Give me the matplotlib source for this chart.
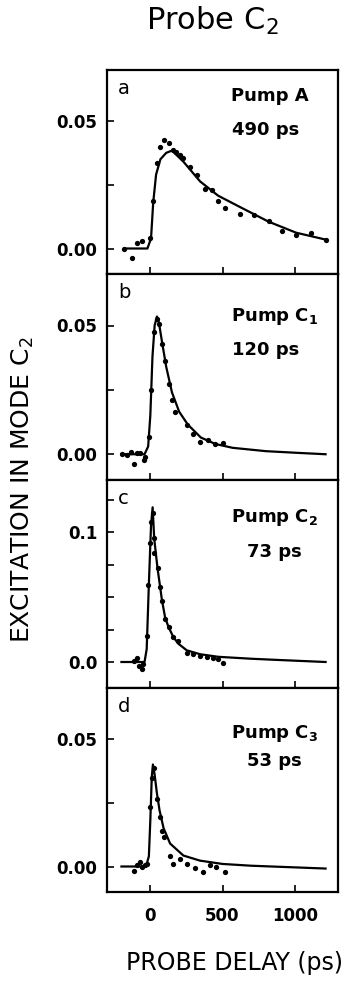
import matplotlib
matplotlib.use("Agg")
import matplotlib.pyplot as plt
from matplotlib.ticker import FixedLocator, FixedFormatter, MultipleLocator

# ---------------- data ----------------
panel_letters = ["a", "b", "c", "d"]
pump_labels = ["Pump A", r"Pump C$_\mathbf{1}$", r"Pump C$_\mathbf{2}$", r"Pump C$_\mathbf{3}$"]
time_labels = ["490 ps", "120 ps", "73 ps", "53 ps"]

pts_x_a = [-183, -126, -92, -57, -5, 18, 46, 69, 92, 126, 160, 178, 206, 229, 275, 321,
           378, 424, 470, 515, 619, 715, 820, 912, 1012, 1111, 1214]
pts_y_a = [0.0, -0.0036, 0.002, 0.0029, 0.0042, 0.0188, 0.0335, 0.0397, 0.0426, 0.0413,
           0.0387, 0.038, 0.0367, 0.0354, 0.0321, 0.0289, 0.0233, 0.0228, 0.0185, 0.0159,
           0.0136, 0.0132, 0.0107, 0.0068, 0.0051, 0.0061, 0.0035]
fit_x_a = [-180, -20, 5, 20, 40, 70, 110, 150, 230, 345, 470, 620, 820, 1010, 1214]
fit_y_a = [0.0, 0.0, 0.004, 0.018, 0.029, 0.035, 0.0375, 0.0384, 0.034, 0.0263, 0.0207,
           0.0163, 0.0105, 0.0062, 0.0035]

pts_x_b = [-195, -160, -137, -115, -92, -69, -46, -34, -11, 5, 23, 46, 57, 80, 103, 126,
           149, 172, 252, 298, 344, 401, 447, 504]
pts_y_b = [0.0, -0.0004, 0.0009, -0.0036, 0.0003, 0.0005, -0.0023, -0.001, 0.0067, 0.0248,
           0.0474, 0.0526, 0.0507, 0.0429, 0.0364, 0.0274, 0.0209, 0.0164, 0.0112, 0.008,
           0.0048, 0.0054, 0.0041, 0.0044]
fit_x_b = [-200, -40, -15, 0, 15, 30, 46, 60, 80, 110, 150, 200, 260, 350, 450, 570, 800,
           1000, 1214]
fit_y_b = [0.0, 0.0, 0.003, 0.015, 0.038, 0.050, 0.0535, 0.051, 0.044, 0.034, 0.024,
           0.0165, 0.0115, 0.0065, 0.0040, 0.0025, 0.0012, 0.0006, 0.0]

pts_x_c = [-115, -92, -80, -57, -50, -23, -16, -5, 7, 18, 23, 27, 50, 69, 80, 103, 126,
           160, 195, 252, 298, 344, 390, 435, 470, 504]
pts_y_c = [0.0008, 0.0034, -0.0031, -0.0057, -0.0018, 0.0202, 0.059, 0.0913, 0.108, 0.1146,
           0.0952, 0.0836, 0.072, 0.0577, 0.0473, 0.0331, 0.0266, 0.0189, 0.0163, 0.0072,
           0.006, 0.0047, 0.0039, 0.0028, 0.0021, -0.0005]
fit_x_c = [-200, -40, -25, -10, 5, 16, 27, 50, 69, 80, 103, 126, 160, 195, 252, 344, 470,
           700, 900, 1214]
fit_y_c = [0.0, 0.0, 0.01, 0.06, 0.105, 0.119, 0.095, 0.072, 0.057, 0.048, 0.034, 0.027,
           0.019, 0.014, 0.009, 0.006, 0.004, 0.0025, 0.0015, 0.0]

pts_x_d = [-115, -92, -74, -57, -34, -23, 0, 11, 23, 46, 64, 80, 96, 137, 160, 206, 257,
           309, 362, 412, 458, 515]
pts_y_d = [-0.0016, 0.0004, 0.0017, -0.0003, 0.0004, 0.0011, 0.0232, 0.0349, 0.0388,
           0.0264, 0.0193, 0.0141, 0.0115, 0.0043, 0.0011, 0.003, 0.0008, -0.0005, -0.0022,
           0.0004, 0.0, -0.0022]
fit_x_d = [-200, -30, -10, 0, 10, 18, 30, 45, 64, 92, 137, 229, 344, 500, 700, 1214]
fit_y_d = [0.0, 0.0, 0.004, 0.018, 0.035, 0.040, 0.036, 0.029, 0.022, 0.015, 0.009, 0.0043,
           0.0023, 0.001, 0.0003, -0.0008]

pts_x = [pts_x_a, pts_x_b, pts_x_c, pts_x_d]
pts_y = [pts_y_a, pts_y_b, pts_y_c, pts_y_d]
fit_x = [fit_x_a, fit_x_b, fit_x_c, fit_x_d]
fit_y = [fit_y_a, fit_y_b, fit_y_c, fit_y_d]

ylims = [(-0.01, 0.07), (-0.01, 0.07), (-0.02, 0.14), (-0.01, 0.07)]
ymajor = [[0.0, 0.05], [0.0, 0.05], [0.0, 0.1], [0.0, 0.05]]
ymajor_labels = [["0.00", "0.05"], ["0.00", "0.05"], ["0.0", "0.1"], ["0.00", "0.05"]]
xticks = [0, 500, 1000]
xtick_labels = ["0", "500", "1000"]

# ---------------- layout ----------------
W, H = 357, 981
fig = plt.figure(figsize=(W / 100, H / 100), dpi=100)
plt.rcParams["font.family"] = ["DejaVu Sans"]

left_px, right_px = 107, 338
bounds_px = [(70, 274), (274, 480), (480, 688), (688, 892)]
text_rows = [(26, 60), (43, 76), (38, 72), (45, 73)]   # px below panel top
time_cx = [266, 266, 274, 274]

for i in range(4):
    top, bot = bounds_px[i]
    ax = fig.add_axes([left_px / W, 1 - bot / H, (right_px - left_px) / W, (bot - top) / H])
    ax.plot(fit_x[i], fit_y[i], color="black", lw=1.6, solid_joinstyle="round", zorder=2)
    ax.plot(pts_x[i], pts_y[i], "o", color="black", ms=3.8, mew=0, zorder=3)
    ax.set_xlim(-300, 1300)
    ax.set_ylim(*ylims[i])
    ax.yaxis.set_major_locator(FixedLocator(ymajor[i]))
    ax.yaxis.set_major_formatter(FixedFormatter(ymajor_labels[i]))
    ax.yaxis.set_minor_locator(MultipleLocator(0.025))
    ax.set_xticks(xticks)
    ax.set_xticklabels(xtick_labels)
    for s in ax.spines.values():
        s.set_linewidth(1.6)
    ax.tick_params(which="both", direction="in", left=True, bottom=True, right=False,
                   top=False, width=1.2)
    ax.tick_params(which="major", length=5)
    ax.tick_params(which="minor", length=5)
    ax.tick_params(axis="y", labelsize=12, pad=7)
    ax.tick_params(axis="x", labelsize=12, pad=11)
    for lab in ax.get_yticklabels() + ax.get_xticklabels():
        lab.set_fontweight("bold")
    if i < 3:
        ax.tick_params(axis="x", labelbottom=False)
    # panel letter
    fig.text(118 / W, 1 - (top + 18) / H, panel_letters[i], fontsize=14,
             ha="left", va="center")
    r1, r2 = text_rows[i]
    fig.text(231 / W, 1 - (top + r1) / H, pump_labels[i], fontsize=13, fontweight="bold",
             ha="left", va="center")
    fig.text(time_cx[i] / W, 1 - (top + r2) / H, time_labels[i], fontsize=13,
             fontweight="bold", ha="center", va="center")

fig.text(212 / W, 1 - 30 / H, r"Probe C$_2$", fontsize=22, ha="center", va="baseline")
fig.text(23 / W, 1 - 490 / H, r"EXCITATION IN MODE C$_2$", fontsize=18, rotation=90,
         ha="center", va="center")
fig.text(235 / W, 1 - 963 / H, "PROBE DELAY (ps)", fontsize=17, ha="center", va="center")

fig.savefig("out.png", dpi=100)
